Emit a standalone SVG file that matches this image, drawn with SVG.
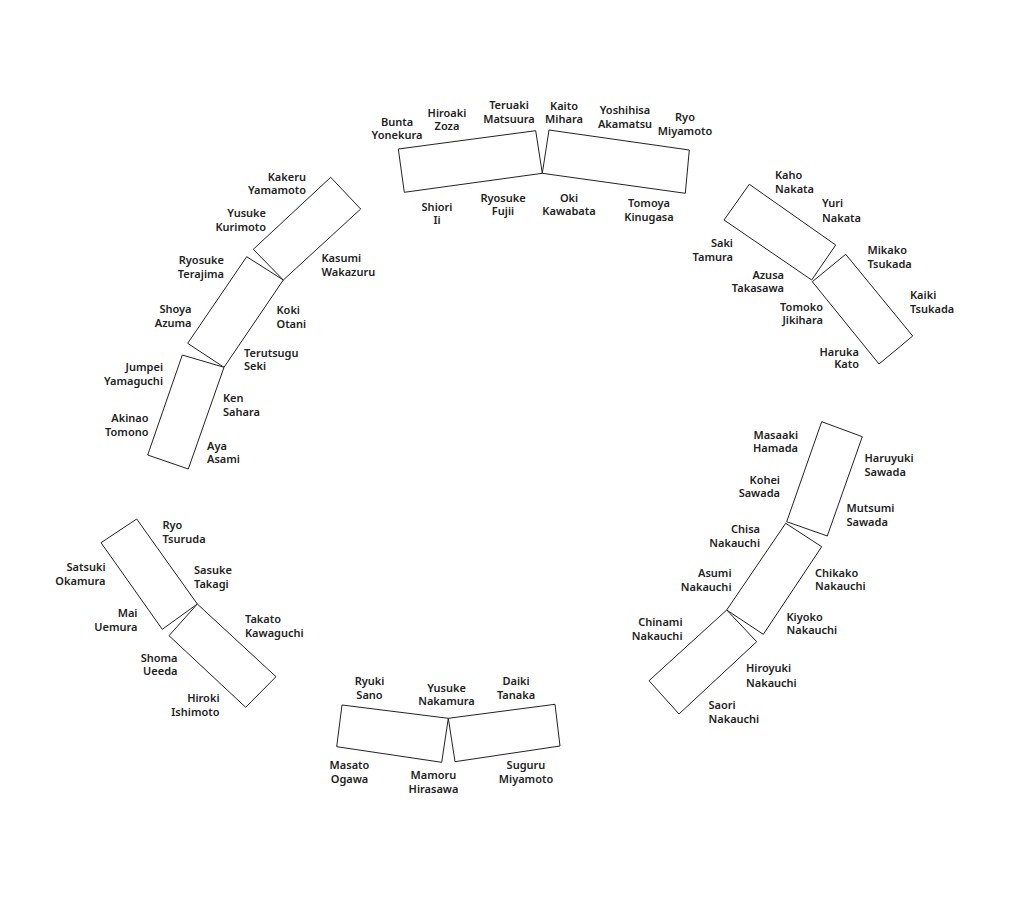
<svg xmlns="http://www.w3.org/2000/svg" width="1024" height="912" viewBox="0 0 1024 912">
<style>
.t{fill:#fff;stroke:#222;stroke-width:1}
text{font-family:"Noto Sans","Liberation Sans",sans-serif;font-size:11px;font-weight:600;fill:#222}
.l{text-anchor:start}.r{text-anchor:end}.c{text-anchor:middle}
</style>
<rect width="1024" height="912" fill="#fff"/>
<g id="table-top-left">
<polygon class="t" points="398.3,149 535.7,130.7 542.3,173.3 404.3,192.3"/>
<text class="c" x="397" y="125.5">Bunta<tspan x="397" dy="13">Yonekura</tspan></text>
<text class="c" x="447" y="116.5">Hiroaki<tspan x="447" dy="13">Zoza</tspan></text>
<text class="c" x="509" y="109">Teruaki<tspan x="509" dy="14">Matsuura</tspan></text>
<text class="c" x="437" y="211">Shiori<tspan x="437" dy="13">Ii</tspan></text>
<text class="c" x="503" y="201.5">Ryosuke<tspan x="503" dy="13">Fujii</tspan></text>
</g>
<g id="table-top-right">
<polygon class="t" points="549,130 689.3,150 685.3,193.3 542.3,173.3"/>
<text class="c" x="564" y="109.5">Kaito<tspan x="564" dy="13.5">Mihara</tspan></text>
<text class="c" x="625" y="114">Yoshihisa<tspan x="625" dy="13.5">Akamatsu</tspan></text>
<text class="c" x="685" y="121">Ryo<tspan x="685" dy="14">Miyamoto</tspan></text>
<text class="c" x="569" y="201.5">Oki<tspan x="569" dy="13">Kawabata</tspan></text>
<text class="c" x="649" y="206.5">Tomoya<tspan x="649" dy="14">Kinugasa</tspan></text>
</g>
<g id="table-right-upper">
<polygon class="t" points="749.3,184.3 835.7,245 811.7,280 724,220"/>
<text class="l" x="775" y="179">Kaho<tspan x="775" dy="13.5">Nakata</tspan></text>
<text class="l" x="822" y="207">Yuri<tspan x="822" dy="15">Nakata</tspan></text>
<text class="r" x="733" y="246.5">Saki<tspan x="733" dy="14.5">Tamura</tspan></text>
<text class="r" x="784" y="279">Azusa<tspan x="784" dy="13">Takasawa</tspan></text>
</g>
<g id="table-right-lower">
<polygon class="t" points="845.7,254.3 912.7,336 879,364 812.3,281.7"/>
<text class="l" x="867.5" y="254">Mikako<tspan x="867.5" dy="13.5">Tsukada</tspan></text>
<text class="l" x="910" y="299">Kaiki<tspan x="910" dy="13.5">Tsukada</tspan></text>
<text class="r" x="823" y="310.5">Tomoko<tspan x="823" dy="13">Jikihara</tspan></text>
<text class="r" x="859" y="355.5">Haruka<tspan x="859" dy="12.5">Kato</tspan></text>
</g>
<g id="table-left-1">
<polygon class="t" points="330.7,177.3 360.7,209 283.3,280 253.3,249.3"/>
<text class="r" x="306" y="180.5">Kakeru<tspan x="306" dy="13.5">Yamamoto</tspan></text>
<text class="r" x="266" y="216.5">Yusuke<tspan x="266" dy="14">Kurimoto</tspan></text>
<text class="l" x="321.5" y="262">Kasumi<tspan x="321.5" dy="13.5">Wakazuru</tspan></text>
</g>
<g id="table-left-2">
<polygon class="t" points="246.7,256.7 283.3,280 224,367.3 187.7,343.3"/>
<text class="r" x="224" y="264">Ryosuke<tspan x="224" dy="14">Terajima</tspan></text>
<text class="r" x="191.5" y="313">Shoya<tspan x="191.5" dy="14">Azuma</tspan></text>
<text class="l" x="276.5" y="314">Koki<tspan x="276.5" dy="13.5">Otani</tspan></text>
<text class="l" x="244" y="356.5">Terutsugu<tspan x="244" dy="13.5">Seki</tspan></text>
</g>
<g id="table-left-3">
<polygon class="t" points="182.3,355 224,367.3 188.3,469 147.7,455"/>
<text class="r" x="163" y="370.5">Jumpei<tspan x="163" dy="14">Yamaguchi</tspan></text>
<text class="l" x="223" y="402">Ken<tspan x="223" dy="14">Sahara</tspan></text>
<text class="r" x="148.5" y="422">Akinao<tspan x="148.5" dy="14">Tomono</tspan></text>
<text class="l" x="207" y="449.5">Aya<tspan x="207" dy="13.5">Asami</tspan></text>
</g>
<g id="table-lower-left-1">
<polygon class="t" points="136.7,519 197.3,604 162.3,629.3 101,542.7"/>
<text class="l" x="162.5" y="529">Ryo<tspan x="162.5" dy="13.5">Tsuruda</tspan></text>
<text class="r" x="105.5" y="571">Satsuki<tspan x="105.5" dy="14">Okamura</tspan></text>
<text class="l" x="194" y="574">Sasuke<tspan x="194" dy="13.5">Takagi</tspan></text>
<text class="r" x="137.5" y="617">Mai<tspan x="137.5" dy="13.5">Uemura</tspan></text>
</g>
<g id="table-lower-left-2">
<polygon class="t" points="197.3,604 276,676.7 245.7,707.3 169,635.7"/>
<text class="l" x="245" y="623">Takato<tspan x="245" dy="13.5">Kawaguchi</tspan></text>
<text class="r" x="177.5" y="662">Shoma<tspan x="177.5" dy="13">Ueeda</tspan></text>
<text class="r" x="219.5" y="701.5">Hiroki<tspan x="219.5" dy="14">Ishimoto</tspan></text>
</g>
<g id="table-bottom-left">
<polygon class="t" points="342,705 448.3,718.3 441.7,762.3 336.7,746.7"/>
<text class="c" x="369.5" y="685">Ryuki<tspan x="369.5" dy="14">Sano</tspan></text>
<text class="c" x="446.5" y="691.5">Yusuke<tspan x="446.5" dy="13.5">Nakamura</tspan></text>
<text class="c" x="349.5" y="769">Masato<tspan x="349.5" dy="14">Ogawa</tspan></text>
<text class="c" x="433.5" y="779">Mamoru<tspan x="433.5" dy="13.5">Hirasawa</tspan></text>
</g>
<g id="table-bottom-right">
<polygon class="t" points="448.3,718.3 555,704.3 560,746 455,761.7"/>
<text class="c" x="516" y="685">Daiki<tspan x="516" dy="14">Tanaka</tspan></text>
<text class="c" x="526" y="769">Suguru<tspan x="526" dy="14">Miyamoto</tspan></text>
</g>
<g id="table-lower-right-1">
<polygon class="t" points="821.7,421.7 862.3,436.7 827.3,536 786.7,521.7"/>
<text class="r" x="798" y="439">Masaaki<tspan x="798" dy="13">Hamada</tspan></text>
<text class="l" x="864.5" y="462">Haruyuki<tspan x="864.5" dy="13.5">Sawada</tspan></text>
<text class="r" x="780" y="484">Kohei<tspan x="780" dy="13">Sawada</tspan></text>
<text class="l" x="846.5" y="512">Mutsumi<tspan x="846.5" dy="14">Sawada</tspan></text>
</g>
<g id="table-lower-right-2">
<polygon class="t" points="785.7,523.3 821.7,546.7 763.3,634.3 726.7,610"/>
<text class="r" x="760" y="533">Chisa<tspan x="760" dy="14">Nakauchi</tspan></text>
<text class="r" x="731.5" y="577">Asumi<tspan x="731.5" dy="13.5">Nakauchi</tspan></text>
<text class="l" x="815" y="577">Chikako<tspan x="815" dy="13">Nakauchi</tspan></text>
<text class="l" x="786.5" y="620.5">Kiyoko<tspan x="786.5" dy="13.5">Nakauchi</tspan></text>
</g>
<g id="table-lower-right-3">
<polygon class="t" points="726.7,610 756.7,641.7 679,714 649,680.7"/>
<text class="r" x="682.5" y="626">Chinami<tspan x="682.5" dy="14">Nakauchi</tspan></text>
<text class="l" x="746" y="672">Hiroyuki<tspan x="746" dy="14.5">Nakauchi</tspan></text>
<text class="l" x="708.5" y="709">Saori<tspan x="708.5" dy="13.5">Nakauchi</tspan></text>
</g>
<g id="connectors"/>
</svg>
